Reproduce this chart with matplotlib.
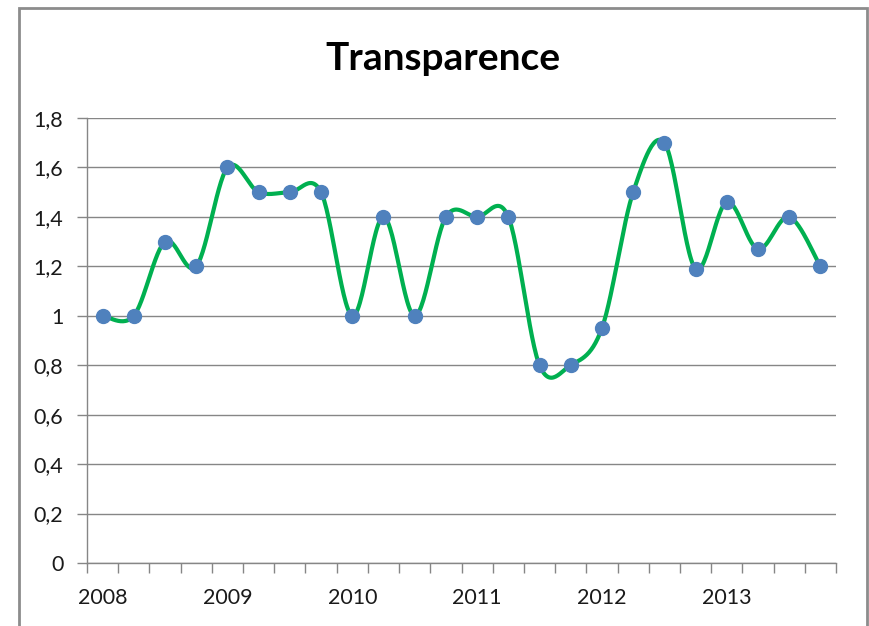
import matplotlib.pyplot as plt
import numpy as np
from matplotlib.patches import Rectangle

# trimestres 2008-2013
years = ['2008', '2009', '2010', '2011', '2012', '2013']
values = [1.0, 1.0, 1.3, 1.2, 1.6, 1.5, 1.5, 1.5,
          1.0, 1.4, 1.0, 1.4, 1.4, 1.4, 0.8, 0.8,
          0.95, 1.5, 1.7, 1.19, 1.46, 1.27, 1.4, 1.2]
yticks = [0, 0.2, 0.4, 0.6, 0.8, 1.0, 1.2, 1.4, 1.6, 1.8]


def excel_smooth(x, y, n=30):
    # courbe lissée façon Excel (Bezier / Catmull-Rom)
    pts = np.column_stack([x, y]).astype(float)
    out = []
    for i in range(len(pts) - 1):
        p0 = pts[i - 1] if i > 0 else pts[i]
        p1 = pts[i]
        p2 = pts[i + 1]
        p3 = pts[i + 2] if i + 2 < len(pts) else pts[i + 1]
        c1 = p1 + (p2 - p0) / 6
        c2 = p2 - (p3 - p1) / 6
        t = np.linspace(0, 1, n)[:, None]
        seg = ((1 - t) ** 3 * p1 + 3 * (1 - t) ** 2 * t * c1
               + 3 * (1 - t) * t ** 2 * c2 + t ** 3 * p2)
        out.append(seg if i == 0 else seg[1:])
    out = np.vstack(out)
    return out[:, 0], out[:, 1]


plt.rcParams['font.family'] = ['Lato', 'DejaVu Sans']
grey = '#868686'

fig = plt.figure(figsize=(8.69, 6.26), dpi=100)
ax = fig.add_axes([87 / 869, 63 / 626, 749 / 869, 445 / 626])

x = np.arange(len(values)) + 0.5
sx, sy = excel_smooth(x, values)
ax.plot(sx, sy, color='#00B050', linewidth=3.0, zorder=3, solid_capstyle='round')
ax.plot(x, values, 'o', color='#4F81BD', markersize=10, zorder=4)

ax.set_xlim(0, len(values))
ax.set_ylim(0, 1.8)
ax.set_yticks(yticks)
ax.set_yticklabels([f'{v:g}'.replace('.', ',') for v in yticks])
ax.yaxis.grid(True, color=grey, linewidth=1.0)
ax.set_axisbelow(True)

ax.set_xticks(np.arange(0, len(values) + 1))
ax.set_xticklabels([])
ax.set_xticks(np.arange(0, len(values), 4) + 0.5, minor=True)
ax.set_xticklabels(years, minor=True)
ax.tick_params(axis='x', which='major', length=7, color=grey, width=1)
ax.tick_params(axis='x', which='minor', length=0, pad=18, labelsize=15.5, labelcolor='#1a1a1a')
ax.tick_params(axis='y', length=7, color=grey, width=1, pad=10, labelsize=15.5, labelcolor='#1a1a1a')

for s in ['top', 'right']:
    ax.spines[s].set_visible(False)
for s in ['left', 'bottom']:
    ax.spines[s].set_color(grey)
    ax.spines[s].set_linewidth(1.0)

fig.text(443 / 869, 1 - 59 / 626, 'Transparence', ha='center', va='center',
         fontsize=28, fontweight='bold', color='black')

# cadre du graphique
fig.patches.append(Rectangle((19 / 869, -0.05), 848 / 869, 1.05 - 8 / 626,
                             transform=fig.transFigure, fill=False,
                             edgecolor='#8c8c8c', linewidth=2))

fig.savefig('out.png', dpi=100)
